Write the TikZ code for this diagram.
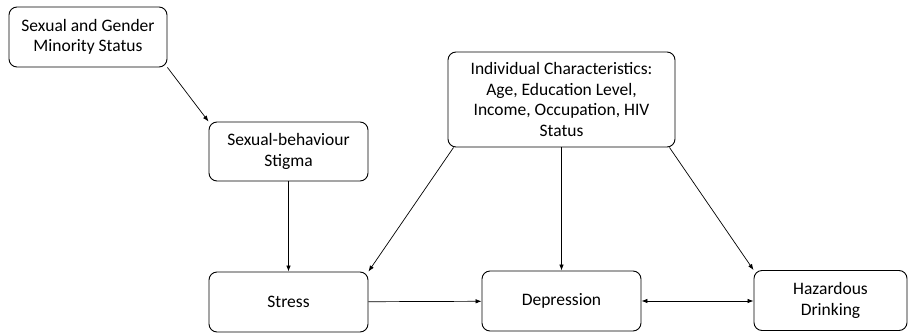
\documentclass[tikz,border=0pt]{standalone}
\usepackage{fontspec}
\setmainfont{Carlito}
\usetikzlibrary{arrows.meta}

\tikzset{
  factor/.style={draw, rounded corners=8pt, line width=0.9pt, align=center,
    inner sep=2pt, font=\fontsize{17.5}{20.5}\selectfont},
  link/.style={line width=0.7pt, -{Latex[length=6pt,width=4.5pt]}},
}

\begin{document}
\begin{tikzpicture}[x=1pt,y=-1pt]
\useasboundingbox (0,0) rectangle (908,335);
\node[factor, minimum width=158pt, minimum height=60pt] (sgm) at (88,37) {Sexual and Gender\\Minority Status};
\node[factor, minimum width=159pt, minimum height=59pt] (stigma) at (288.5,151.5) {Sexual-behaviour\\Stigma};
\node[factor, minimum width=227pt, minimum height=95pt] (indiv) at (561.5,99.5) {Individual Characteristics:\\Age, Education Level,\\Income, Occupation, HIV\\Status};
\node[factor, minimum width=159pt, minimum height=60pt] (stress) at (288.5,302) {Stress};
\node[factor, minimum width=159pt, minimum height=60pt] (depr) at (561.5,301) {Depression};
\node[factor, minimum width=153pt, minimum height=60pt] (hazard) at (830.5,300.5) {Hazardous\\Drinking};
% paths
\draw[link] (sgm.south east) -- (stigma.north west);
\draw[link] (stigma) -- (stress);
\draw[link] ([xshift=6pt]indiv.south west) -- (stress.north east);
\draw[link] (indiv) -- (depr);
\draw[link] ([xshift=-6pt]indiv.south east) -- (hazard.north west);
\draw[link] (stress) -- (depr);
\draw[link, {Latex[length=6pt,width=4.5pt]}-{Latex[length=6pt,width=4.5pt]}] (depr) -- (hazard.west |- depr);
\end{tikzpicture}
\end{document}
